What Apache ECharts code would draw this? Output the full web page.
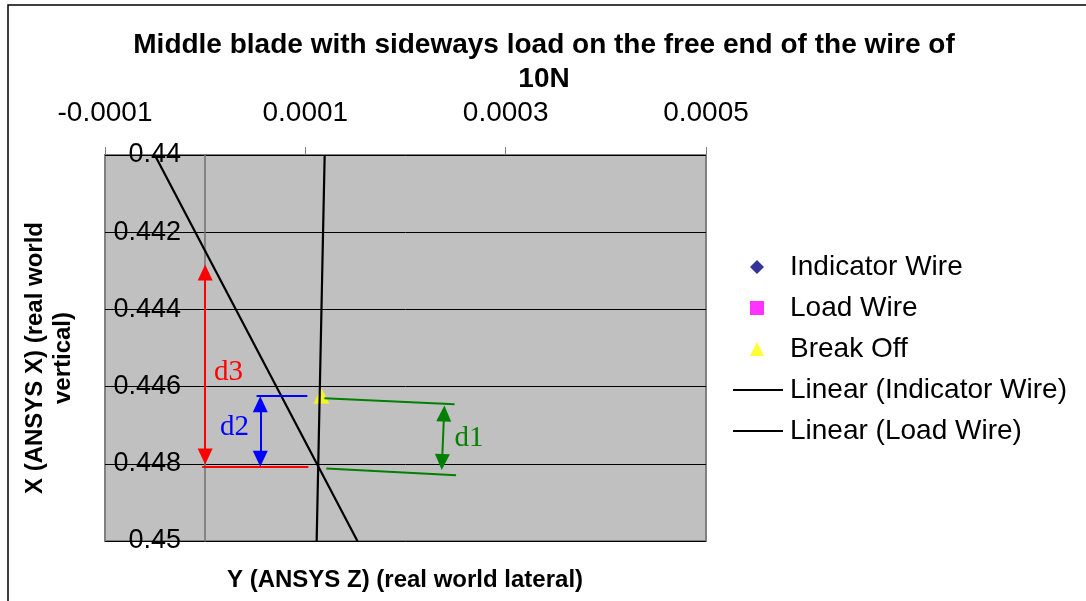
<!DOCTYPE html>
<html>
<head>
<meta charset="utf-8">
<script src="https://cdn.jsdelivr.net/npm/echarts@6/dist/echarts.min.js"></script>
<style>
  html, body { margin: 0; padding: 0; background: #fff; }
  #chart { width: 1086px; height: 601px; }
</style>
</head>
<body>
<div id="chart"></div>
<script>
// axis ranges (x = lateral, y = vertical, inverted)
const xMin = -0.0001, xMax = 0.0005, xStep = 0.0002
const yMin = 0.44, yMax = 0.45, yStep = 0.002

// measured points
const indicatorWire = []
const loadWire = []
const breakOff = [[0.000116, 0.44624]]

// linear fits (end points at the plot edges)
const indicatorFit = [[-0.0000503, 0.44], [0.000152, 0.45]]
const loadFit = [[0.0001193, 0.44], [0.0001113, 0.45]]

// dimension annotations
const d3Arrow = [[0, 0.443044], [0, 0.447811]]
const d3Base = [[-0.000003, 0.448088], [0.000103, 0.448088]]
const d2Top = [[0.0000513, 0.446231], [0.000102, 0.446231]]
const d2Arrow = [[0.000055, 0.446456], [0.000055, 0.44787]]
const d1Top = [[0.000119, 0.446301], [0.000249, 0.446456]]
const d1Bottom = [[0.000121, 0.448122], [0.0002505, 0.448295]]
const d1Arrow = [[0.0002385, 0.446697], [0.0002365, 0.447953]]
const dLabels = [
    { name: 'd3', at: [0.0000234, 0.445635], color: '#ff0000' },
    { name: 'd2', at: [0.0000294, 0.44706], color: '#0000ff' },
    { name: 'd1', at: [0.0002634, 0.44735], color: '#008000' }
]

const font = 'Liberation Sans, Arial, sans-serif'
const lineIcon = 'path://M0,0L50,0L50,2L0,2Z'

function seg (pts, color, arrows) {
    const s = arrows ? 'triangle' : 'none'
    return [
        { coord: pts[0], symbol: s, lineStyle: { color, width: 2, type: 'solid' } },
        { coord: pts[1], symbol: s }
    ]
}

const chart = echarts.init(document.getElementById('chart'))

const option = {
    animation: false,
    backgroundColor: '#ffffff',
    title: {
        text: 'Middle blade with sideways load on the free end of the wire of\n10N',
        left: 539,
        top: 23,
        textAlign: 'center',
        textStyle: { fontFamily: font, fontSize: 28, fontWeight: 'bold', color: '#000', lineHeight: 34 }
    },
    grid: {
        left: 105,
        top: 155,
        right: 380,
        bottom: 60,
        show: true,
        backgroundColor: '#c0c0c0',
        borderColor: '#808080',
        borderWidth: 2
    },
    legend: [
        {
            orient: 'vertical',
            left: 750,
            top: 252,
            padding: 0,
            itemWidth: 14,
            itemHeight: 14,
            itemGap: 11,
            selectedMode: false,
            textStyle: { fontFamily: font, fontSize: 28, color: '#000', lineHeight: 30, padding: [0, 0, 0, 21] },
            data: [
                { name: 'Indicator Wire', icon: 'diamond' },
                { name: 'Load Wire', icon: 'rect' },
                { name: 'Break Off', icon: 'triangle' }
            ]
        },
        {
            orient: 'vertical',
            left: 733,
            top: 375,
            padding: 0,
            itemWidth: 50,
            itemHeight: 2,
            itemGap: 11,
            selectedMode: false,
            itemStyle: { color: '#000' },
            textStyle: { fontFamily: font, fontSize: 28, color: '#000', lineHeight: 30, padding: [0, 0, 0, 2] },
            data: [
                { name: 'Linear (Indicator Wire)', icon: lineIcon },
                { name: 'Linear (Load Wire)', icon: lineIcon }
            ]
        }
    ],
    xAxis: {
        type: 'value',
        position: 'top',
        min: xMin,
        max: xMax,
        interval: xStep,
        axisLine: { show: false, onZero: false },
        axisTick: { show: true, length: 8, lineStyle: { color: '#808080', width: 1 } },
        splitLine: { show: false },
        axisLabel: {
            margin: 28,
            fontFamily: font,
            fontSize: 28,
            color: '#000',
            formatter: v => (Math.round(v * 1e4) / 1e4).toFixed(4)
        }
    },
    yAxis: {
        type: 'value',
        inverse: true,
        min: yMin,
        max: yMax,
        interval: yStep,
        axisLine: { show: true, onZero: true, lineStyle: { color: '#707070', width: 1.5 } },
        axisTick: { show: false },
        splitLine: { show: true, lineStyle: { color: '#000', width: 1 } },
        axisLabel: {
            margin: -76,
            fontFamily: font,
            fontSize: 27,
            color: '#000',
            showMinLabel: true,
            showMaxLabel: true,
            formatter: v => String(parseFloat(v.toFixed(3)))
        }
    },
    graphic: [
        {
            type: 'rect',
            shape: { x: 8, y: 5, width: 1200, height: 700 },
            style: { fill: 'none', stroke: '#000', lineWidth: 1.5 },
            silent: true
        },
        {
            type: 'text',
            x: 405,
            y: 580,
            style: {
                text: 'Y (ANSYS Z) (real world lateral)',
                font: 'bold 24px ' + font,
                fill: '#000',
                align: 'center',
                verticalAlign: 'middle'
            }
        },
        {
            type: 'text',
            x: 49,
            y: 358,
            rotation: Math.PI / 2,
            style: {
                text: 'X (ANSYS X) (real world\nvertical)',
                font: 'bold 24px ' + font,
                fill: '#000',
                align: 'center',
                verticalAlign: 'middle',
                lineHeight: 28
            }
        }
    ],
    series: [
        {
            name: 'Indicator Wire',
            type: 'scatter',
            symbol: 'diamond',
            symbolSize: 14,
            itemStyle: { color: '#000080' },
            data: indicatorWire
        },
        {
            name: 'Load Wire',
            type: 'scatter',
            symbol: 'rect',
            symbolSize: 13,
            itemStyle: { color: '#ff00ff' },
            data: loadWire
        },
        {
            name: 'Break Off',
            type: 'scatter',
            symbol: 'triangle',
            symbolSize: 16,
            z: 2,
            itemStyle: { color: '#ffff00' },
            data: breakOff
        },
        {
            name: 'Linear (Indicator Wire)',
            type: 'line',
            symbol: 'none',
            z: 4,
            lineStyle: { color: '#000', width: 2.2 },
            itemStyle: { color: '#000' },
            data: indicatorFit
        },
        {
            name: 'Linear (Load Wire)',
            type: 'line',
            symbol: 'none',
            z: 4,
            lineStyle: { color: '#000', width: 2.2 },
            itemStyle: { color: '#000' },
            data: loadFit
        },
        {
            name: 'annotations',
            type: 'scatter',
            data: [],
            z: 5,
            markLine: {
                silent: true,
                animation: false,
                symbolSize: [15, 16],
                label: { show: false },
                emphasis: { disabled: true },
                data: [
                    seg(d3Arrow, '#ff0000', true),
                    seg(d3Base, '#ff0000', false),
                    seg(d2Top, '#0000ff', false),
                    seg(d2Arrow, '#0000ff', true),
                    seg(d1Top, '#008000', false),
                    seg(d1Bottom, '#008000', false),
                    seg(d1Arrow, '#008000', true)
                ]
            },
            markPoint: {
                silent: true,
                animation: false,
                symbol: 'circle',
                symbolSize: 1,
                itemStyle: { color: 'rgba(0,0,0,0)' },
                data: dLabels.map(d => ({
                    coord: d.at,
                    label: {
                        show: true,
                        position: 'inside',
                        formatter: d.name,
                        color: d.color,
                        fontFamily: 'Liberation Serif, Times New Roman, serif',
                        fontSize: 29
                    }
                }))
            }
        }
    ]
}

chart.setOption(option)
</script>
</body>
</html>
